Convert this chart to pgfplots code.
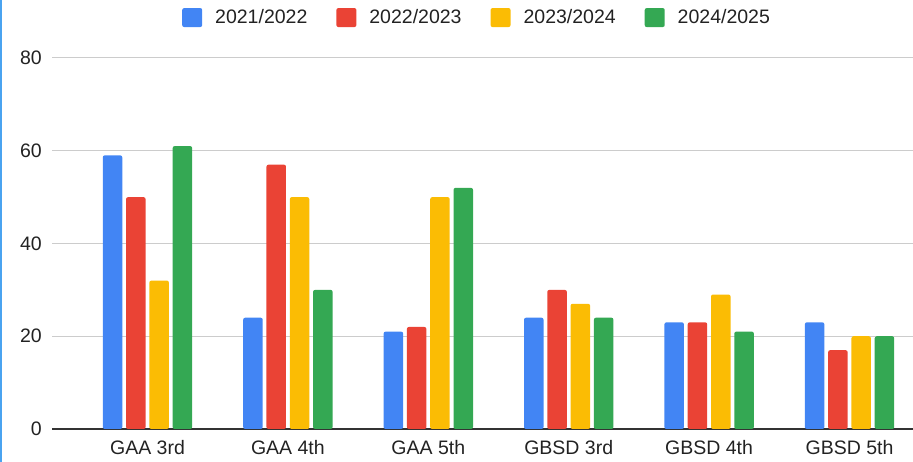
\documentclass[border=0pt]{standalone}
\usepackage{pgfplots}
\pgfplotsset{compat=1.18}
\usepackage{fontspec}
\setmainfont{Liberation Sans}
\definecolor{gblue}{HTML}{4285F4}
\definecolor{gred}{HTML}{EA4335}
\definecolor{gyellow}{HTML}{FBBC04}
\definecolor{ggreen}{HTML}{34A853}
\definecolor{gridgray}{HTML}{CCCCCC}
\definecolor{axisgray}{HTML}{333333}
\definecolor{txt}{HTML}{222222}
\definecolor{edgeblue}{HTML}{4AA3F0}
\begin{document}
\begin{tikzpicture}[x=1pt,y=1pt]
\useasboundingbox (0,0) rectangle (913,462);
\fill[edgeblue] (0,0) rectangle (2,462);
\begin{axis}[
  at={(52pt,33pt)}, anchor=south west,
  scale only axis, width=861pt, height=371pt,
  ymin=0, ymax=80, xmin=-0.680, xmax=5.452,
  ytick={0,20,40,60,80},
  xtick={0,1,2,3,4,5},
  xticklabels={GAA 3rd, GAA 4th, GAA 5th, GBSD 3rd, GBSD 4th, GBSD 5th},
  ymajorgrids, major grid style={draw=gridgray, line width=1pt},
  axis x line*=bottom, axis y line*=left,
  y axis line style={draw=none},
  x axis line style={draw=axisgray, line width=1.3pt},
  major tick length=0pt,
  /pgf/number format/assume math mode=true,
  tick label style={font=\fontsize{19.5}{23}\selectfont, text=txt},
  yticklabel style={anchor=east, inner sep=0pt, xshift=-10pt},
  xticklabel style={anchor=base, inner sep=0pt, yshift=-26pt},
  ybar=3.8pt, bar width=19.5pt,
  legend image code/.code={\fill[#1, rounded corners=2pt] (0pt,-9.5pt) rectangle (20pt,9.5pt);},
  legend columns=4,
  legend style={at={(0.151,1.109)}, anchor=west, draw=none, fill=none,
    inner sep=0pt, font=\fontsize{19.5}{23}\selectfont, text=txt,
    nodes={inner sep=0pt},
    /tikz/every odd column/.append style={column sep=13pt},
    /tikz/every even column/.append style={column sep=29pt}},
]
\addplot[fill=gblue, draw=none, rounded corners=2pt] coordinates {(0,59) (1,24) (2,21) (3,24) (4,23) (5,23)};
\addplot[fill=gred, draw=none, rounded corners=2pt] coordinates {(0,50) (1,57) (2,22) (3,30) (4,23) (5,17)};
\addplot[fill=gyellow, draw=none, rounded corners=2pt] coordinates {(0,32) (1,50) (2,50) (3,27) (4,29) (5,20)};
\addplot[fill=ggreen, draw=none, rounded corners=2pt] coordinates {(0,61) (1,30) (2,52) (3,24) (4,21) (5,20)};
\legend{2021/2022, 2022/2023, 2023/2024, 2024/2025}
\end{axis}
\end{tikzpicture}
\end{document}
